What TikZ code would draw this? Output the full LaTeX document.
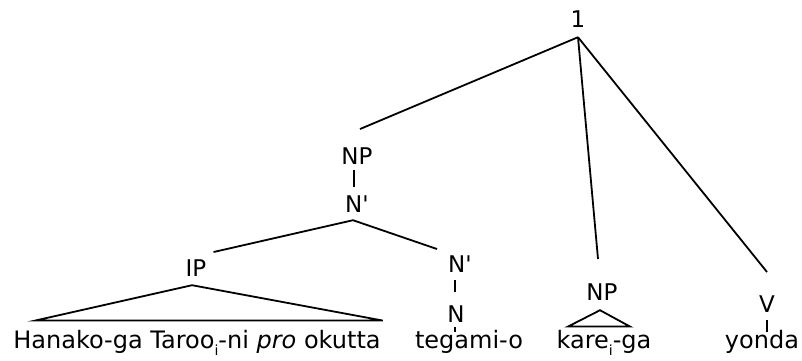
\documentclass[tikz,border=0pt]{standalone}
\usepackage{fontspec}
\newfontfamily\treefont{DejaVu Sans}
\usetikzlibrary{positioning,calc}
\newcommand{\idx}[1]{\raisebox{-0.3em}{\fontsize{14}{14}\selectfont #1}}

\begin{document}
\begin{tikzpicture}[
        x=1pt,
        y=-1pt,
        font=\treefont,
        branch/.style={line width=1.8pt, line join=miter},
        cat/.style={inner sep=0pt, anchor=base, font=\treefont\fontsize{23}{27}\selectfont},
        leaf/.style={inner sep=0pt, anchor=base, font=\treefont\fontsize{24}{28}\selectfont}
    ]
        \useasboundingbox (0,0) rectangle (802,360);

        % categories
        \node[cat] (root)  at (578,27)  {1};
        \node[cat] (npA)   at (357,164) {NP};
        \node[cat] (nbarA) at (357,212) {N'};
        \node[cat] (ip)    at (196,276) {IP};
        \node[cat] (nbarB) at (460,272) {N'};
        \node[cat] (nB)    at (456,322) {N};
        \node[cat] (npB)   at (602,300) {NP};
        \node[cat] (vb)    at (767,312) {V};

        % words
        \node[leaf] (hanako) at (197,348) {Hanako-ga Taroo\idx{i}-ni \textit{pro} okutta};
        \node[leaf] (tegami) at (469,348) {tegami-o};
        \node[leaf] (kare)   at (604,348) {kare\idx{i}-ga};
        \node[leaf] (yonda)  at (762,348) {yonda};

        % branches
        \draw[branch] ($(root.south)+(0,10)$) -- ($(npA.north)+(3,-18)$);
        \draw[branch] ($(root.south)+(0,10)$) -- ($(npB.north)+(-4,-24)$);
        \draw[branch] ($(root.south)+(0,10)$) -- ($(vb.north)+(0,-23)$);
        \draw[branch] ($(npA.south)+(-3,6)$) -- ($(nbarA.north)+(-3,-8)$);
        \draw[branch] ($(ip.north east)+(7,-7)$) -- ($(nbarA.south)+(-4,8)$)
            -- ($(nbarB.north west)+(-11,-6)$);
        \draw[branch] ($(nbarB.south)+(-5,8)$) -- ($(nB.north)+(-1,-13)$);
        \draw[branch] ($(nB.south)+(-1,5)$) -- ($(nB.south |- tegami.north)+(-1,2)$);
        \draw[branch] ($(vb.south)+(0,8)$) -- ($(vb.south |- yonda.north)+(0,2)$);

        % triangles
        \draw[branch] ($(ip.south)+(-4,9)$) -- ($(hanako.north west)+(22,-9)$)
            -- ($(hanako.north east)+(2,-9)$) -- cycle;
        \draw[branch] ($(npB.south)+(-2,10)$) -- ($(kare.north)+(-36,-3)$)
            -- ($(kare.north)+(26,-3)$) -- cycle;
    \end{tikzpicture}
\end{document}
